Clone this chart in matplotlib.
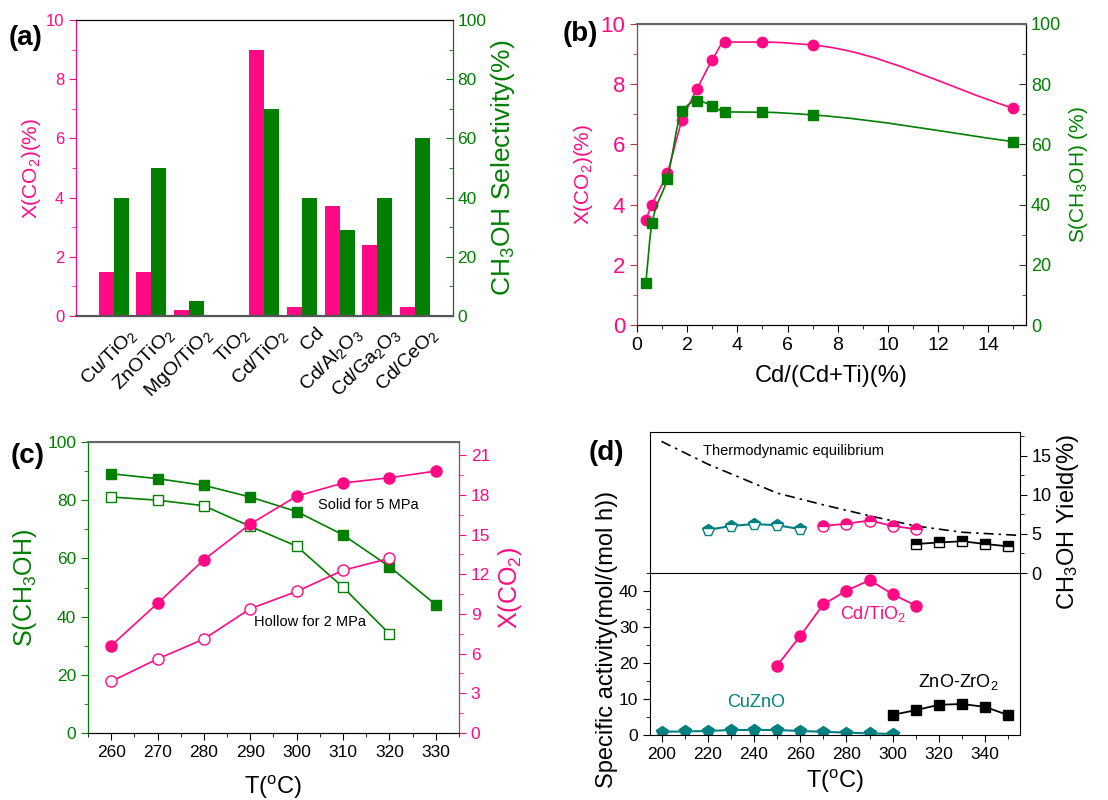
import numpy as np
import matplotlib
matplotlib.use("Agg")
import matplotlib.pyplot as plt
from matplotlib.path import Path
from matplotlib.patches import PathPatch
from matplotlib.ticker import MultipleLocator

plt.rcParams['font.family'] = ['Liberation Sans', 'DejaVu Sans']
plt.rcParams['mathtext.fontset'] = 'custom'
plt.rcParams['mathtext.rm'] = 'Liberation Sans'
plt.rcParams['mathtext.it'] = 'Liberation Sans:italic'
plt.rcParams['mathtext.bf'] = 'Liberation Sans:bold'
plt.rcParams['mathtext.default'] = 'regular'

PINK = '#ff0a84'
GREEN = '#007f00'
TEAL = '#008080'

# ---- panel (a) data
catalysts = ['Cu/TiO$_2$', 'ZnOTiO$_2$', 'MgO/TiO$_2$', 'TiO$_2$', 'Cd/TiO$_2$',
             'Cd', 'Cd/Al$_2$O$_3$', 'Cd/Ga$_2$O$_3$', 'Cd/CeO$_2$']
conv_a = [1.5, 1.5, 0.2, 0.0, 9.0, 0.3, 3.7, 2.4, 0.3]
sel_a = [40, 50, 5, 0, 70, 40, 29, 40, 60]

# ---- panel (b) data
cd_frac = [0.35, 0.6, 1.2, 1.8, 2.4, 3.0, 3.5, 5.0, 7.0, 15.0]
conv_b = [3.5, 4.0, 5.05, 6.8, 7.85, 8.8, 9.4, 9.4, 9.3, 7.2]
sel_b = [13.9, 34.0, 48.4, 71.1, 74.5, 72.8, 70.8, 70.7, 69.8, 60.9]

# ---- panel (c) data
temp_c5 = [260, 270, 280, 290, 300, 310, 320, 330]
sel_5mpa = [89.1, 87.4, 85.1, 81.1, 76.1, 68.1, 57.2, 44.1]
conv_5mpa = [6.6, 9.8, 13.1, 15.8, 17.9, 18.9, 19.3, 19.8]
temp_c2 = [260, 270, 280, 290, 300, 310, 320]
sel_2mpa = [81.1, 80.0, 78.1, 71.0, 64.2, 50.1, 34.1]
conv_2mpa = [3.9, 5.6, 7.1, 9.4, 10.7, 12.3, 13.2]

# ---- panel (d) data
t_cuzno = [200, 210, 220, 230, 240, 250, 260, 270, 280, 290, 300]
act_cuzno = [0.9, 1.0, 1.1, 1.4, 1.4, 1.4, 1.1, 0.9, 0.65, 0.45, 0.3]
t_cdti = [250, 260, 270, 280, 290, 300, 310]
act_cdti = [19.3, 27.5, 36.3, 40.1, 43.0, 39.1, 35.9]
t_znzr = [300, 310, 320, 330, 340, 350]
act_znzr = [5.6, 6.9, 8.4, 8.6, 7.8, 5.5]

t_cuzno_y = [220, 230, 240, 250, 260]
yield_cuzno = [5.5, 6.0, 6.25, 6.1, 5.6]
t_cdti_y = [270, 280, 290, 300, 310]
yield_cdti = [6.0, 6.3, 6.7, 6.0, 5.6]
t_znzr_y = [310, 320, 330, 340, 350]
yield_znzr = [3.7, 3.9, 4.05, 3.7, 3.4]
t_equil = [200, 220, 250, 270, 290, 310, 330, 355]
yield_equil = [16.8, 13.9, 10.2, 8.7, 7.3, 6.0, 5.2, 4.8]


def smooth_path(x, y):
    # monotone cubic (pchip-style) segments drawn as Bezier curves through the points
    x = np.asarray(x, float)
    y = np.asarray(y, float)
    n = len(x)
    h = np.diff(x)
    d = np.diff(y) / h
    m = np.zeros(n)
    m[0], m[-1] = d[0], d[-1]
    for i in range(1, n - 1):
        if d[i - 1] * d[i] > 0:
            w1 = 2 * h[i] + h[i - 1]
            w2 = h[i] + 2 * h[i - 1]
            m[i] = (w1 + w2) / (w1 / d[i - 1] + w2 / d[i])
    verts = [(x[0], y[0])]
    codes = [Path.MOVETO]
    for i in range(n - 1):
        verts += [(x[i] + h[i] / 3, y[i] + m[i] * h[i] / 3),
                  (x[i + 1] - h[i] / 3, y[i + 1] - m[i + 1] * h[i] / 3),
                  (x[i + 1], y[i + 1])]
        codes += [Path.CURVE4] * 3
    return Path(verts, codes)


fig = plt.figure(figsize=(11.08, 8.0), dpi=100)

# ================= (a)
axa = fig.add_axes([0.0686, 0.605, 0.340, 0.370])
axa2 = axa.twinx()
pos = np.arange(1, len(catalysts) + 1)
w = 0.4
axa.bar(pos - w / 2, conv_a, w, color=PINK, zorder=2)
axa2.bar(pos + w / 2, sel_a, w, color=GREEN, zorder=2)
axa.set_xlim(0, 10)
axa.set_ylim(0, 10)
axa2.set_ylim(0, 100)
# labels sit a bit to the right of each group (ticks themselves are hidden)
axa.set_xticks(pos + 0.35)
axa.set_xticklabels(catalysts, rotation=45, ha='right', rotation_mode='anchor', fontsize=14)
axa.tick_params(axis='x', length=0, pad=6)
axa.yaxis.set_minor_locator(MultipleLocator(1))
axa.tick_params(axis='y', colors=PINK, labelsize=12, direction='out', length=5)
axa.tick_params(axis='y', which='minor', colors=PINK, direction='out', length=3)
axa2.yaxis.set_minor_locator(MultipleLocator(10))
axa2.tick_params(axis='y', colors=GREEN, labelsize=12.5, direction='in', length=5)
axa2.tick_params(axis='y', which='minor', colors=GREEN, direction='in', length=3)
axa.set_ylabel('X(CO$_2$)(%)', color=PINK, fontsize=15, labelpad=2)
axa2.set_ylabel('CH$_3$OH Selectivity(%)', color=GREEN, fontsize=19, labelpad=2)
axa2.spines['left'].set_color(PINK)
axa2.spines['right'].set_color(GREEN)
axa2.spines['bottom'].set_color('#555555')
axa2.spines['bottom'].set_linewidth(1.5)
axa2.spines['top'].set_color('black')
fig.text(0.008, 0.953, '(a)', fontsize=20, fontweight='bold', va='center')

# ================= (b)
axb = fig.add_axes([0.5749, 0.59375, 0.3511, 0.37625])
axb2 = axb.twinx()
axb.add_patch(PathPatch(smooth_path(cd_frac, conv_b), fill=False, edgecolor=PINK, lw=1.2))
axb.plot(cd_frac, conv_b, 'o', color=PINK, ms=7.5, zorder=3)
axb2.add_patch(PathPatch(smooth_path(cd_frac, sel_b), fill=False, edgecolor=GREEN, lw=1.2))
axb2.plot(cd_frac, sel_b, 's', color=GREEN, ms=7, zorder=3)
axb.set_xlim(0, 15.5)
axb.set_ylim(0, 10)
axb2.set_ylim(0, 100)
axb.xaxis.set_major_locator(MultipleLocator(2))
axb.xaxis.set_minor_locator(MultipleLocator(1))
axb.yaxis.set_minor_locator(MultipleLocator(1))
axb2.yaxis.set_minor_locator(MultipleLocator(10))
axb.tick_params(axis='x', labelsize=14, direction='out', length=5)
axb.tick_params(axis='x', which='minor', direction='out', length=3)
axb.tick_params(axis='y', colors='#b03a3a', labelsize=16, direction='out', length=5)
axb.tick_params(axis='y', which='minor', colors='#b03a3a', direction='out', length=3)
axb.tick_params(axis='y', labelcolor=PINK)
axb2.tick_params(axis='y', colors='#333333', labelsize=13, direction='in', length=5)
axb2.tick_params(axis='y', which='minor', colors='#333333', direction='in', length=3)
axb2.tick_params(axis='y', labelcolor=GREEN)
axb2.spines['left'].set_color('#b03a3a')
axb2.spines['top'].set_color('#666666')
axb2.spines['top'].set_linewidth(1.5)
axb.set_xlabel('Cd/(Cd+Ti)(%)', fontsize=17, labelpad=8)
axb.set_ylabel('X(CO$_2$)(%)', color=PINK, fontsize=15, labelpad=4)
axb2.set_ylabel('S(CH$_3$OH) (%)', color=GREEN, fontsize=15, labelpad=4)
fig.text(0.508, 0.958, '(b)', fontsize=20, fontweight='bold', va='center')

# ================= (c)
axc = fig.add_axes([0.0794, 0.08375, 0.3348, 0.36375])
axc2 = axc.twinx()
axc.plot(temp_c5, sel_5mpa, 's-', color=GREEN, ms=7, lw=1.2, zorder=3)
axc.plot(temp_c2, sel_2mpa, 's-', color=GREEN, mfc='white', ms=7, lw=1.2, zorder=3)
axc2.plot(temp_c5, conv_5mpa, 'o-', color=PINK, ms=8, lw=1.2, zorder=3)
axc2.plot(temp_c2, conv_2mpa, 'o-', color=PINK, mfc='white', ms=8, lw=1.2, zorder=3)
axc.set_xlim(255, 335)
axc.set_ylim(0, 100)
axc2.set_ylim(0, 22)
axc.xaxis.set_major_locator(MultipleLocator(10))
axc.xaxis.set_minor_locator(MultipleLocator(5))
axc.yaxis.set_minor_locator(MultipleLocator(10))
axc2.yaxis.set_major_locator(MultipleLocator(3))
axc2.yaxis.set_minor_locator(MultipleLocator(1.5))
axc.tick_params(axis='x', labelsize=12.5, direction='out', length=5)
axc.tick_params(axis='x', which='minor', direction='out', length=3)
axc.tick_params(axis='y', colors=GREEN, labelsize=12.5, direction='out', length=5)
axc.tick_params(axis='y', which='minor', colors=GREEN, direction='out', length=3)
axc2.tick_params(axis='y', colors=PINK, labelsize=12.5, direction='out', length=5)
axc2.tick_params(axis='y', which='minor', colors=PINK, direction='out', length=3)
axc2.spines['left'].set_color(GREEN)
axc2.spines['right'].set_color(PINK)
axc2.spines['top'].set_color('#666666')
axc2.spines['top'].set_linewidth(1.5)
axc.set_xlabel('T($^o$C)', fontsize=17, labelpad=10)
axc.set_ylabel('S(CH$_3$OH)', color=GREEN, fontsize=18, labelpad=6)
axc2.set_ylabel('X(CO$_2$)', color=PINK, fontsize=18, labelpad=4)
axc.text(304.6, 78.5, 'Solid for 5 MPa', fontsize=10.5, va='center')
axc.text(290.7, 38.2, 'Hollow for 2 MPa', fontsize=10.5, va='center')
fig.text(0.01, 0.43, '(c)', fontsize=20, fontweight='bold', va='center')

# ================= (d)
axd = fig.add_axes([0.5866, 0.08125, 0.3339, 0.2025])
axd_top = fig.add_axes([0.5866, 0.28375, 0.3339, 0.17625], sharex=axd)
axd.plot(t_cuzno, act_cuzno, 'p-', color=TEAL, ms=8.5, lw=1.5)
axd.plot(t_cdti, act_cdti, 'o-', color=PINK, ms=8, lw=1.3)
axd.plot(t_znzr, act_znzr, 's-', color='black', ms=7, lw=1.3)
axd.set_xlim(195, 355)
axd.set_ylim(0, 45)
axd.xaxis.set_major_locator(MultipleLocator(20))
axd.xaxis.set_minor_locator(MultipleLocator(10))
axd.yaxis.set_major_locator(MultipleLocator(10))
axd.yaxis.set_minor_locator(MultipleLocator(5))
axd.tick_params(axis='both', labelsize=12.5, direction='out', length=5)
axd.tick_params(axis='both', which='minor', direction='out', length=3)
axd.spines['top'].set_visible(False)
axd.text(277, 33.6, 'Cd/TiO$_2$', color=PINK, fontsize=13, va='center')
axd.text(311, 14.8, 'ZnO-ZrO$_2$', color='black', fontsize=13, va='center')
axd.text(228.3, 9.0, 'CuZnO', color=TEAL, fontsize=13, va='center')
axd.set_xlabel('T($^o$C)', fontsize=17, labelpad=4)

axd_top.plot(t_equil, yield_equil, color='black', lw=1.2, ls=(0, (6, 3, 1.5, 3)))
axd_top.plot(t_cuzno_y, yield_cuzno, 'p-', color=TEAL, fillstyle='top', mfc=TEAL,
             mfcalt='white', ms=8.5, lw=1.5)
axd_top.plot(t_cdti_y, yield_cdti, 'o-', color=PINK, fillstyle='top', mfc=PINK,
             mfcalt='white', ms=8, lw=1.3)
axd_top.plot(t_znzr_y, yield_znzr, 's-', color='black', fillstyle='top', mfc='black',
             mfcalt='white', ms=7, lw=1.3)
axd_top.set_ylim(0, 18)
axd_top.yaxis.tick_right()
axd_top.yaxis.set_label_position('right')
axd_top.yaxis.set_major_locator(MultipleLocator(5))
axd_top.yaxis.set_minor_locator(MultipleLocator(2.5))
axd_top.tick_params(axis='y', labelsize=13, direction='out', length=5)
axd_top.tick_params(axis='y', which='minor', direction='out', length=3)
axd_top.tick_params(axis='x', which='both', bottom=False, labelbottom=False)
axd_top.text(218, 15.6, 'Thermodynamic equilibrium', fontsize=10.5, va='center')
fig.text(0.548, 0.201, 'Specific activity(mol/(mol h))', rotation=90,
         fontsize=17, ha='center', va='center')
fig.text(0.964, 0.347, 'CH$_3$OH Yield(%)', rotation=90, fontsize=17, ha='center', va='center')
fig.text(0.531, 0.434, '(d)', fontsize=20, fontweight='bold', va='center')

fig.savefig('out.png', dpi=100)
